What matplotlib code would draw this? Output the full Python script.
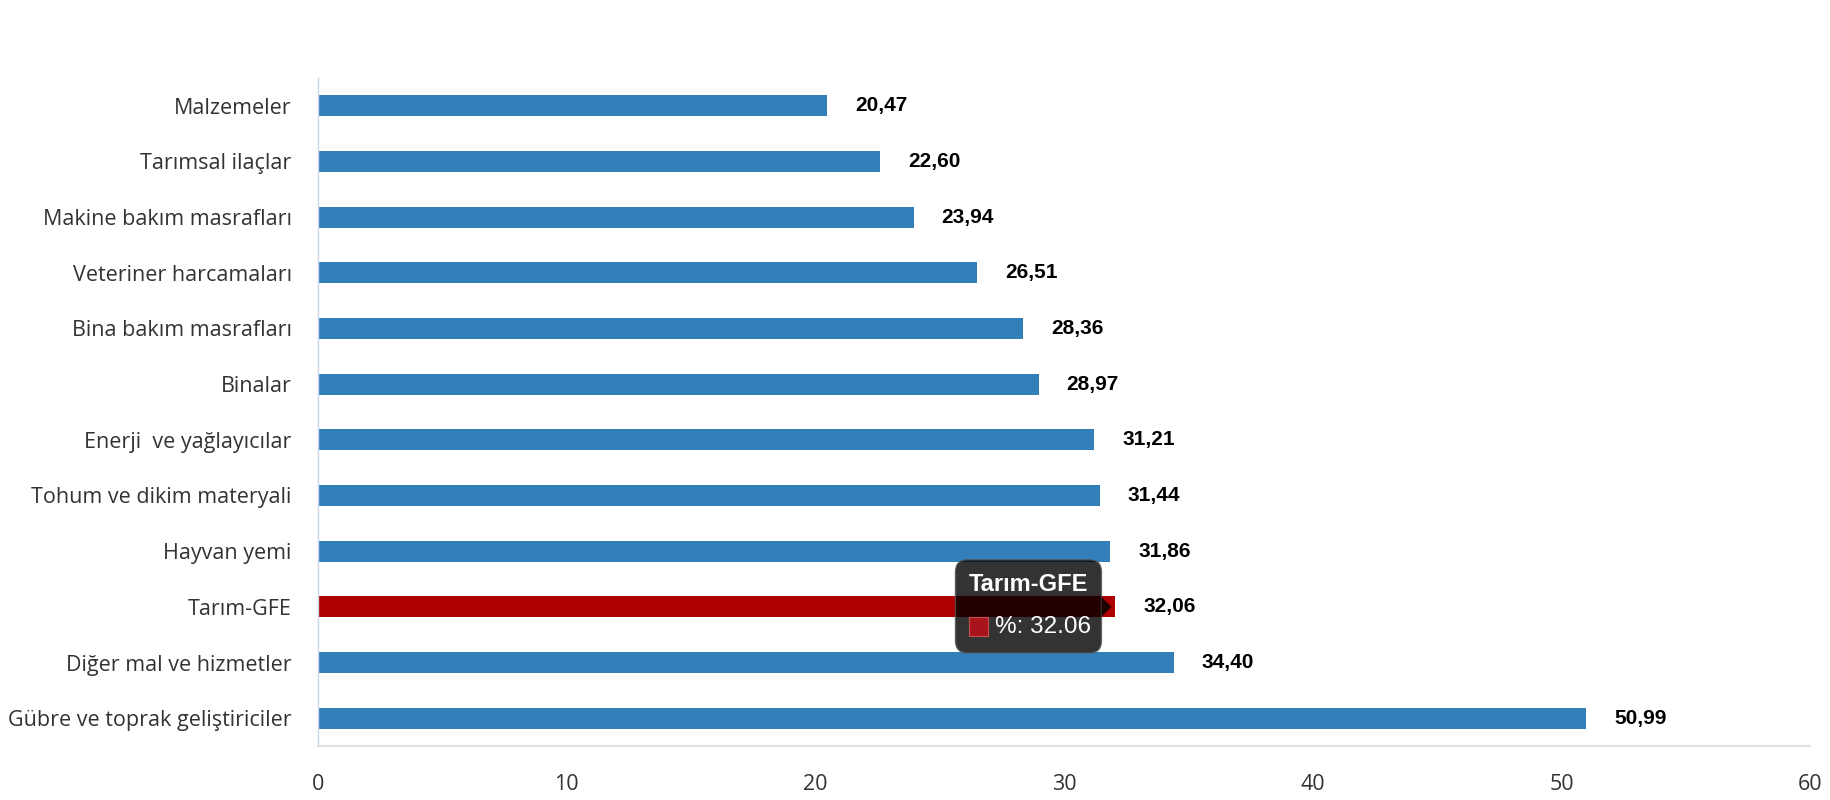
import matplotlib
matplotlib.use("Agg")
import matplotlib.pyplot as plt
from matplotlib.patches import FancyBboxPatch, Polygon, Rectangle
from matplotlib.transforms import ScaledTranslation, Affine2D

# ================= DATA ================= #
CATEGORIES = [
    "Malzemeler",
    "Tarımsal ilaçlar",
    "Makine bakım masrafları",
    "Veteriner harcamaları",
    "Bina bakım masrafları",
    "Binalar",
    "Enerji  ve yağlayıcılar",
    "Tohum ve dikim materyali",
    "Hayvan yemi",
    "Tarım-GFE",
    "Diğer mal ve hizmetler",
    "Gübre ve toprak geliştiriciler",
]
VALUES = [20.47, 22.60, 23.94, 26.51, 28.36, 28.97, 31.21, 31.44, 31.86, 32.06, 34.40, 50.99]
X_TICKS = [0, 10, 20, 30, 40, 50, 60]
HIGHLIGHT = "Tarım-GFE"

# ================= THEME ================= #
BAR_BLUE = "#337fba"
BAR_RED = "#ae0000"
LABEL_COLOR = "#333333"
LABEL_FONT = ["Open Sans", "DejaVu Sans"]
VALUE_FONT = ["Liberation Sans", "DejaVu Sans"]
DPI = 100

# ================= FIGURE ================= #
fig = plt.figure(figsize=(18.3, 8), dpi=DPI, facecolor="white")
ax = fig.add_axes([0.1738, 0.0675, 0.9893 - 0.1738, 0.9025 - 0.0675])

ypos = list(range(len(CATEGORIES)))
colors = [BAR_RED if c == HIGHLIGHT else BAR_BLUE for c in CATEGORIES]
ax.barh(ypos, VALUES, height=0.38, color=colors, edgecolor="none")

ax.set_xlim(0, 60)
ax.set_ylim(len(CATEGORIES) - 0.5, -0.5)
ax.set_xticks(X_TICKS)
ax.set_yticks(ypos)
ax.set_yticklabels(CATEGORIES)

for lab in ax.get_yticklabels() + ax.get_xticklabels():
    lab.set_fontfamily(LABEL_FONT)
    lab.set_fontsize(15.5)
    lab.set_color(LABEL_COLOR)

ax.tick_params(axis="y", length=0, pad=19)
ax.tick_params(axis="x", length=0, pad=20)

for side in ("top", "right"):
    ax.spines[side].set_visible(False)
ax.spines["left"].set_color("#ccd6eb")
ax.spines["bottom"].set_color("#e0e0e0")
ax.spines["left"].set_linewidth(1.0)
ax.spines["bottom"].set_linewidth(1.5)

# value labels
for y, v in zip(ypos, VALUES):
    ax.annotate(f"{v:.2f}".replace(".", ","), xy=(v, y), xytext=(20, 0),
                textcoords="offset points", ha="left", va="center",
                fontsize=15, fontweight="bold", color="black", family=VALUE_FONT)

# ================= TOOLTIP ================= #
# drawn in pixels relative to the end of the highlighted bar
hi = CATEGORIES.index(HIGHLIGHT)
hv = VALUES[hi]
px = Affine2D().scale(1.0 / DPI) + fig.dpi_scale_trans + ScaledTranslation(hv, hi, ax.transData)

tip = FancyBboxPatch((-160, -46), 146, 93,
                     boxstyle="round,pad=0,rounding_size=12",
                     facecolor="black", alpha=0.8, edgecolor="#555555", linewidth=1,
                     transform=px, zorder=5)
ax.add_patch(tip)
arrow = Polygon([(-14, -10), (-4, 0), (-14, 10)], closed=True,
                facecolor="black", alpha=0.8, edgecolor="none", transform=px, zorder=5)
ax.add_patch(arrow)

ax.text(-87, 22, HIGHLIGHT, ha="center", va="center", fontsize=17,
        fontweight="bold", color="white", family=VALUE_FONT, transform=px, zorder=6)
ax.add_patch(Rectangle((-146, -29.5), 19, 19, facecolor="#a8141b", edgecolor="#c85050",
                       linewidth=0.8, transform=px, zorder=6))
ax.text(-120, -20, f"%: {hv:.2f}", ha="left", va="center",
        fontsize=17.5, color="white", family=VALUE_FONT, transform=px, zorder=6)

fig.savefig("out.png", dpi=DPI, facecolor="white")
